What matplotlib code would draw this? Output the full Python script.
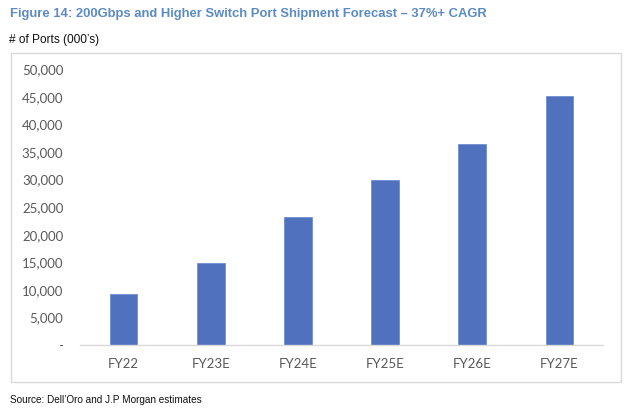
import matplotlib
matplotlib.use("Agg")
import matplotlib.pyplot as plt
from matplotlib.patches import Rectangle
from matplotlib.ticker import FuncFormatter

categories = ["FY22", "FY23E", "FY24E", "FY25E", "FY26E", "FY27E"]
ports_000s = [9200, 14900, 23300, 30000, 36400, 45200]
yticks = [0, 5000, 10000, 15000, 20000, 25000, 30000, 35000, 40000, 45000, 50000]

title = "Figure 14: 200Gbps and Higher Switch Port Shipment Forecast \u2013 37%+ CAGR"
subtitle = "# of Ports (000\u2019s)"
source = "Source: Dell\u2019Oro and J.P Morgan estimates"

W, H = 640, 413
fig = plt.figure(figsize=(W / 100, H / 100), dpi=100)
fig.patch.set_facecolor("white")

# outer frame
fig.patches.append(Rectangle((11 / W, 1 - 382 / H), (621 - 11) / W, (382 - 53) / H,
                             transform=fig.transFigure, fill=False,
                             edgecolor="#d9d9d9", linewidth=1.0))

ax = fig.add_axes([80 / W, 1 - 345 / H, (603 - 80) / W, (345 - 69.3) / H])
x = list(range(len(categories)))
ax.bar(x, ports_000s, width=0.316, color="#4f71be", edgecolor="#6f8fd0", linewidth=0.6)
ax.set_xlim(-0.5, len(categories) - 0.5)
ax.set_ylim(0, 50000)
ax.set_yticks(yticks)
ax.yaxis.set_major_formatter(FuncFormatter(lambda v, p: "-" if v == 0 else f"{int(v):,}"))
ax.set_xticks(x)
ax.set_xticklabels(categories)
for s in ["top", "right", "left"]:
    ax.spines[s].set_visible(False)
ax.spines["bottom"].set_color("#d9d9d9")
ax.spines["bottom"].set_linewidth(1.0)
ax.tick_params(axis="y", length=0, pad=12, labelsize=9.5, labelcolor="#595959")
ax.tick_params(axis="x", length=0, pad=9, labelsize=9.5, labelcolor="#595959")
for lab in ax.get_xticklabels() + ax.get_yticklabels():
    lab.set_fontfamily("Lato")

fig.text(10 / W, 1 - 14 / H, title, fontsize=9.4, fontweight="bold", color="#5b8bc4",
         family="Liberation Sans", va="center", ha="left")
fig.text(9 / W, 1 - 40 / H, subtitle, fontsize=8.6, color="#111111",
         family="Liberation Sans", va="center", ha="left")
fig.text(10 / W, 1 - 400 / H, source, fontsize=7.2, color="#111111",
         family="Liberation Sans", va="center", ha="left")

fig.savefig("out.png", dpi=100)
